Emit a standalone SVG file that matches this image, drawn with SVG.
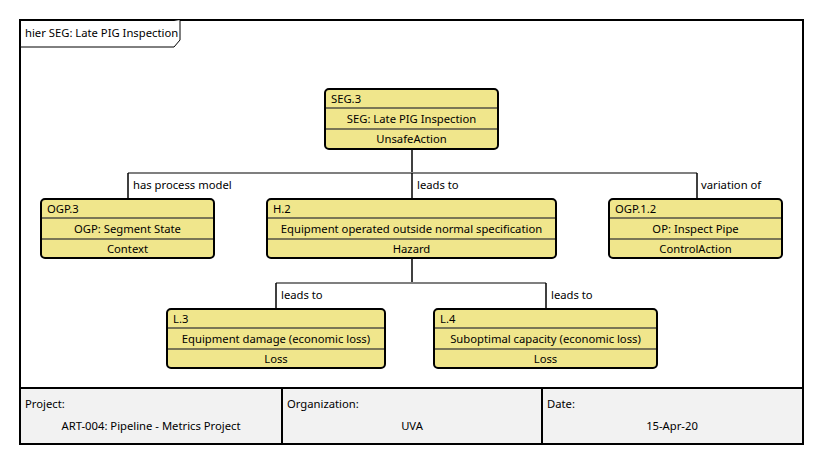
<svg xmlns="http://www.w3.org/2000/svg" width="824" height="465" viewBox="0 0 824 465">
  <defs>
    <style>
      text { font-family: "Noto Sans", "Open Sans", sans-serif; font-size: 11.25px; fill: #000; }
      .mid { text-anchor: middle; }
      .box { fill: #f0e68c; stroke: #000; stroke-width: 2; }
      .sep { stroke: #7a7656; stroke-width: 2; }
      .bus { fill: none; stroke: #7f7f7f; stroke-width: 2; }
      .drop { fill: none; stroke: #000; stroke-width: 1.5; }
    </style>
  </defs>

  <rect x="0" y="0" width="824" height="465" fill="#fff"/>

  <!-- frame -->
  <rect x="20" y="20" width="783" height="424" fill="#fff" stroke="#000" stroke-width="2"/>
  <path d="M20,47 H174 L180,40 V20" fill="#fff" stroke="#000" stroke-width="1"/>
  <text x="25" y="37">hier SEG: Late PIG Inspection</text>

  <!-- connectors -->
  <g id="connectors">
    <line class="drop" x1="412" y1="149" x2="412" y2="173"/>
    <polyline class="bus" points="128,173 697,173"/>
    <line class="drop" x1="128" y1="173" x2="128" y2="199"/>
    <line class="drop" x1="412" y1="173" x2="412" y2="199"/>
    <line class="drop" x1="697" y1="173" x2="697" y2="199"/>
    <text x="133" y="189">has process model</text>
    <text x="417" y="189">leads to</text>
    <text x="701" y="189">variation of</text>

    <line class="drop" x1="412" y1="258" x2="412" y2="283"/>
    <polyline class="bus" points="276,283 546,283"/>
    <line class="drop" x1="276" y1="283" x2="276" y2="309"/>
    <line class="drop" x1="546" y1="283" x2="546" y2="309"/>
    <text x="281" y="299">leads to</text>
    <text x="551" y="299">leads to</text>
  </g>

  <!-- nodes -->
  <g id="seg3">
    <rect class="box" x="325" y="89" width="173" height="60" rx="4"/>
    <line class="sep" x1="326" y1="108" x2="497" y2="108"/>
    <line class="sep" x1="326" y1="129" x2="497" y2="129"/>
    <text x="331" y="103">SEG.3</text>
    <text class="mid" x="411.5" y="123">SEG: Late PIG Inspection</text>
    <text class="mid" x="411.5" y="143">UnsafeAction</text>
  </g>

  <g id="ogp3">
    <rect class="box" x="41" y="199" width="173" height="59" rx="4"/>
    <line class="sep" x1="42" y1="218" x2="213" y2="218"/>
    <line class="sep" x1="42" y1="239" x2="213" y2="239"/>
    <text x="47" y="213">OGP.3</text>
    <text class="mid" x="127.5" y="233">OGP: Segment State</text>
    <text class="mid" x="127.5" y="253">Context</text>
  </g>

  <g id="h2">
    <rect class="box" x="267" y="199" width="289" height="59" rx="4"/>
    <line class="sep" x1="268" y1="218" x2="555" y2="218"/>
    <line class="sep" x1="268" y1="239" x2="555" y2="239"/>
    <text x="273" y="213">H.2</text>
    <text class="mid" x="411.5" y="233">Equipment operated outside normal specification</text>
    <text class="mid" x="411.5" y="253">Hazard</text>
  </g>

  <g id="ogp12">
    <rect class="box" x="609" y="199" width="173" height="59" rx="4"/>
    <line class="sep" x1="610" y1="218" x2="781" y2="218"/>
    <line class="sep" x1="610" y1="239" x2="781" y2="239"/>
    <text x="615" y="213">OGP.1.2</text>
    <text class="mid" x="695.5" y="233">OP: Inspect Pipe</text>
    <text class="mid" x="695.5" y="253">ControlAction</text>
  </g>

  <g id="l3">
    <rect class="box" x="167" y="309" width="218" height="59" rx="4"/>
    <line class="sep" x1="168" y1="328" x2="384" y2="328"/>
    <line class="sep" x1="168" y1="349" x2="384" y2="349"/>
    <text x="173" y="323">L.3</text>
    <text class="mid" x="276" y="343">Equipment damage (economic loss)</text>
    <text class="mid" x="276" y="363">Loss</text>
  </g>

  <g id="l4">
    <rect class="box" x="434" y="309" width="223" height="59" rx="4"/>
    <line class="sep" x1="435" y1="328" x2="656" y2="328"/>
    <line class="sep" x1="435" y1="349" x2="656" y2="349"/>
    <text x="440" y="323">L.4</text>
    <text class="mid" x="545.5" y="343">Suboptimal capacity (economic loss)</text>
    <text class="mid" x="545.5" y="363">Loss</text>
  </g>

  <!-- footer -->
  <g id="footer">
    <rect x="20" y="388" width="783" height="56" fill="#f2f2f2" stroke="#000" stroke-width="2"/>
    <line x1="282" y1="388" x2="282" y2="444" stroke="#000" stroke-width="2"/>
    <line x1="542" y1="388" x2="542" y2="444" stroke="#000" stroke-width="2"/>
    <text x="25" y="408">Project:</text>
    <text class="mid" x="151" y="430">ART-004: Pipeline - Metrics Project</text>
    <text x="287" y="408">Organization:</text>
    <text class="mid" x="412" y="430">UVA</text>
    <text x="547" y="408">Date:</text>
    <text class="mid" x="672" y="430">15-Apr-20</text>
  </g>
</svg>
